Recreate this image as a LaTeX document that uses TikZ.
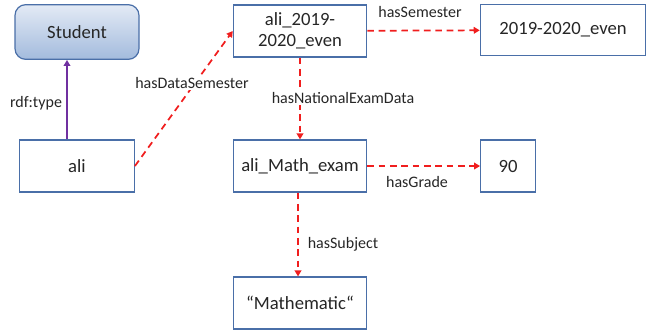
\documentclass[tikz,border=0pt]{standalone}
\usepackage{fontspec}
\setmainfont{Carlito}
\usetikzlibrary{arrows.meta}
\definecolor{boxline}{HTML}{4A6FA8}
\definecolor{classtop}{HTML}{E3EAF5}
\definecolor{classbot}{HTML}{A3BBDD}
\definecolor{typeline}{HTML}{7030A0}
\definecolor{propline}{HTML}{F01E1E}
\definecolor{ink}{HTML}{262626}
\tikzset{
  res/.style={draw=boxline, line width=0.9pt, fill=white, text=ink,
    font=\fontsize{14}{16}\selectfont, align=center,
    minimum width=100pt, minimum height=39pt, inner sep=2pt},
  cls/.style={res, rounded corners=8pt, top color=classtop, bottom color=classbot,
    minimum width=93pt, minimum height=41pt},
  prop/.style={propline, line width=1.3pt, dash pattern=on 5pt off 3.5pt,
    -{Triangle[length=4.5pt,width=5pt]}},
  lbl/.style={text=ink, font=\fontsize{12}{14}\selectfont, inner sep=1pt}
}
\begin{document}
\begin{tikzpicture}[x=0.75pt,y=-0.75pt]
  \useasboundingbox (0,0) rectangle (655,333);
  \draw
    (77,32) node[cls] (student){Student}
    (77,166) node[res, minimum width=86pt] (ali){ali}
    (300,31) node[res] (sem){ali\_2019-\\2020\_even}
    (563,30) node[res, minimum width=124pt, minimum height=38pt] (semval){2019-2020\_even}
    (300,166) node[res] (exam){ali\_Math\_exam}
    (508,166) node[res, minimum width=41pt] (grade){90}
    (300,303) node[res] (subj){“Mathematic“};
  \begin{scope}
    \draw[typeline, line width=1.3pt, -{Triangle[length=4.5pt,width=5pt]}]
      ([xshift=-7.5pt]ali.north) to ([xshift=-7.5pt]student.south);
    \draw[prop] (ali.east) to (sem.west);
    \draw[prop] (sem) to (semval);
    \draw[prop] (sem) to (exam);
    \draw[prop] (exam) to (grade);
    \draw[prop] ([xshift=-1.5pt]exam.south) to ([xshift=-1.5pt]subj.north);
    \node[lbl] (l1) at (36,103) {rdf:type};
    \node[lbl, fill=white] (l2) at (192,83) {hasDataSemester};
    \node[lbl] (l3) at (420,12) {hasSemester};
    \node[lbl, fill=white] (l4) at (343,98) {hasNationalExamData};
    \node[lbl] (l5) at (417,182) {hasGrade};
    \node[lbl] (l6) at (343,244) {hasSubject};
  \end{scope}
\end{tikzpicture}
\end{document}
